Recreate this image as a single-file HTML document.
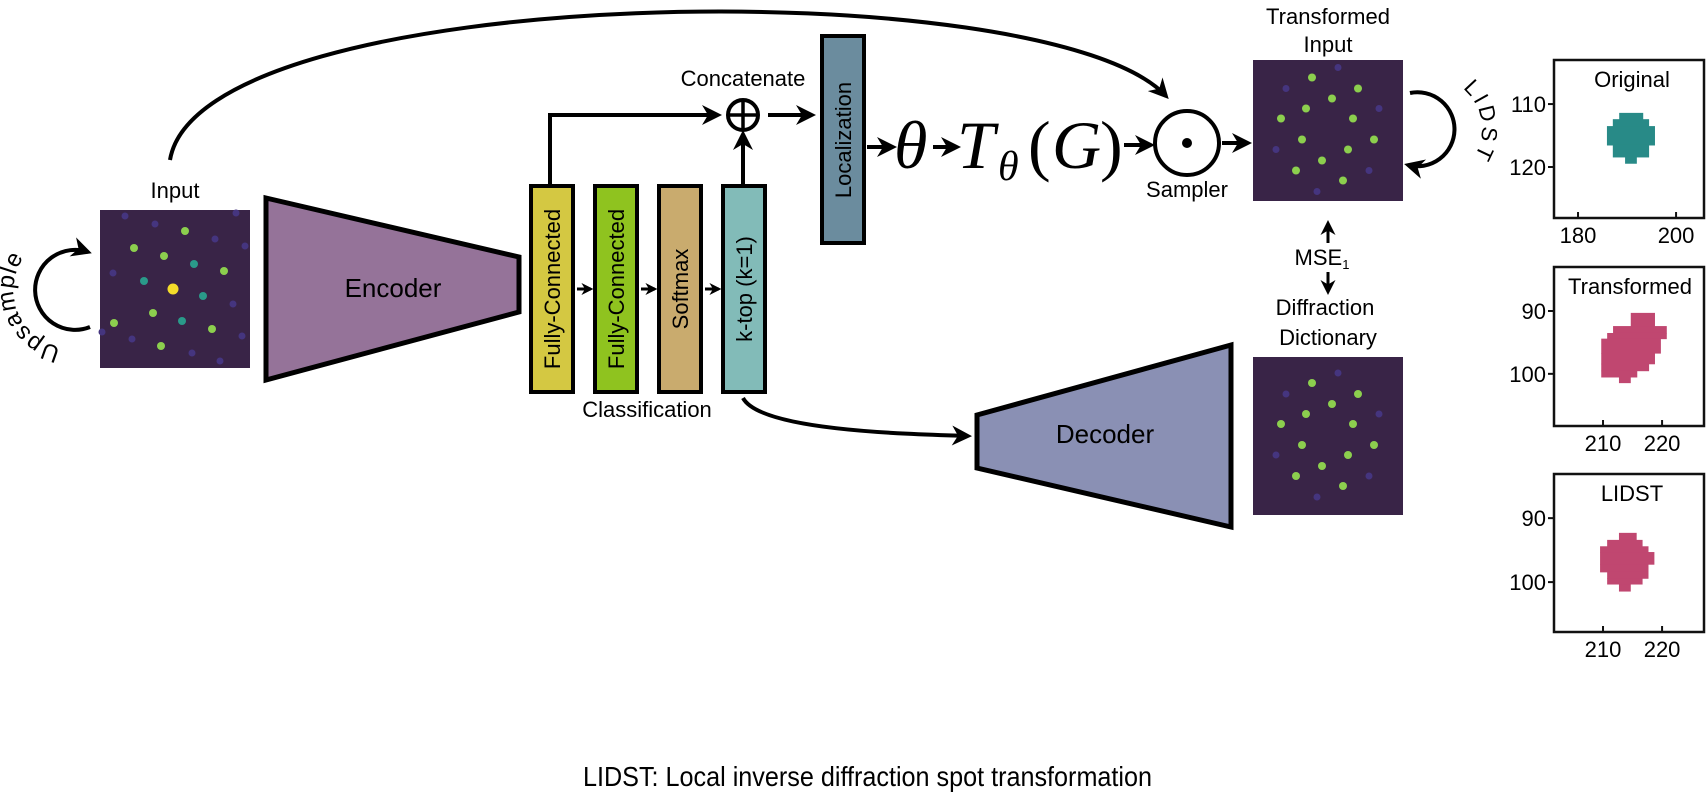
<!DOCTYPE html>
<html><head><meta charset="utf-8"><style>
html,body{margin:0;padding:0;background:#fff;}
svg{display:block;font-family:"Liberation Sans",sans-serif;}
</style></head><body>
<svg id="fig" width="1707" height="810" viewBox="0 0 1707 810" xmlns="http://www.w3.org/2000/svg">
<defs>
<marker id="ah" viewBox="0 0 10 10" refX="8" refY="5" markerWidth="5" markerHeight="5" orient="auto-start-reverse"><path d="M0,0 L10,5 L0,10 L3,5 z" fill="#000"/></marker>
<marker id="ahs" viewBox="0 0 10 10" refX="8" refY="5" markerWidth="4" markerHeight="4" orient="auto"><path d="M0,0 L10,5 L0,10 L3,5 z" fill="#000"/></marker>
</defs>

<path d="M170,160 C200,-20 1050,-30 1166,96" fill="none" stroke="#000" stroke-width="4" marker-end="url(#ah)"/>

<text x="175" y="198" font-size="22" text-anchor="middle">Input</text>
<g id="img-input"></g>

<path d="M90,327 A40 40 0 1 1 88,252" fill="none" stroke="#000" stroke-width="4" marker-end="url(#ah)"/>
<path id="upPath" d="M75,348 A58 58 0 1 1 99,239" fill="none"/>
<text font-size="24" letter-spacing="1"><textPath href="#upPath" startOffset="14">Upsample</textPath></text>

<polygon points="266,198 519,257 519,312 266,380" fill="#957399" stroke="#000" stroke-width="5"/>
<text x="393" y="297" font-size="26" text-anchor="middle">Encoder</text>

<rect x="531" y="186" width="42" height="206" fill="#d4c842" stroke="#000" stroke-width="4"/>
<rect x="595" y="186" width="42" height="206" fill="#8fc31f" stroke="#000" stroke-width="4"/>
<rect x="659" y="186" width="42" height="206" fill="#c9ab6e" stroke="#000" stroke-width="4"/>
<rect x="723" y="186" width="42" height="206" fill="#82bbb8" stroke="#000" stroke-width="4"/>
<text font-size="22" text-anchor="middle" transform="translate(560,289) rotate(-90)">Fully-Connected</text>
<text font-size="22" text-anchor="middle" transform="translate(624,289) rotate(-90)">Fully-Connected</text>
<text font-size="22" text-anchor="middle" transform="translate(688,289) rotate(-90)">Softmax</text>
<text font-size="22" text-anchor="middle" transform="translate(752,289) rotate(-90)">k-top (k=1)</text>
<line x1="577" y1="289" x2="591" y2="289" stroke="#000" stroke-width="3" marker-end="url(#ahs)"/>
<line x1="641" y1="289" x2="655" y2="289" stroke="#000" stroke-width="3" marker-end="url(#ahs)"/>
<line x1="705" y1="289" x2="719" y2="289" stroke="#000" stroke-width="3" marker-end="url(#ahs)"/>
<text x="647" y="417" font-size="22" text-anchor="middle">Classification</text>

<path d="M550,184 L550,115 L718,115" fill="none" stroke="#000" stroke-width="4" marker-end="url(#ah)"/>
<line x1="743" y1="184" x2="743" y2="134" stroke="#000" stroke-width="4" marker-end="url(#ah)"/>
<circle cx="743" cy="115" r="15" fill="none" stroke="#000" stroke-width="4"/>
<line x1="728" y1="115" x2="758" y2="115" stroke="#000" stroke-width="3.5"/>
<line x1="743" y1="100" x2="743" y2="130" stroke="#000" stroke-width="3.5"/>
<text x="743" y="86" font-size="22" text-anchor="middle">Concatenate</text>
<line x1="768" y1="115" x2="812" y2="115" stroke="#000" stroke-width="4" marker-end="url(#ah)"/>

<rect x="822" y="36" width="42" height="207" fill="#6b8c9e" stroke="#000" stroke-width="4"/>
<text font-size="22" text-anchor="middle" transform="translate(851,140) rotate(-90)">Localization</text>
<line x1="867" y1="147" x2="893" y2="147" stroke="#000" stroke-width="4" marker-end="url(#ah)"/>
<text x="894" y="168" font-size="68" font-family="Liberation Serif, serif" font-style="italic">θ</text>
<line x1="933" y1="147" x2="957" y2="147" stroke="#000" stroke-width="4" marker-end="url(#ah)"/>
<text font-family="Liberation Serif, serif" font-style="italic"><tspan x="957" y="168" font-size="68">T</tspan><tspan x="998" y="180" font-size="42">θ</tspan><tspan x="1028" y="168" font-size="68" font-style="normal">(</tspan><tspan x="1052" y="168" font-size="68">G</tspan><tspan x="1100" y="168" font-size="68" font-style="normal">)</tspan></text>
<line x1="1124" y1="145" x2="1151" y2="145" stroke="#000" stroke-width="4" marker-end="url(#ah)"/>
<circle cx="1187" cy="143" r="32" fill="none" stroke="#000" stroke-width="4"/>
<circle cx="1187" cy="143" r="5" fill="#000"/>
<text x="1187" y="197" font-size="22" text-anchor="middle">Sampler</text>
<line x1="1222" y1="143" x2="1248" y2="143" stroke="#000" stroke-width="4" marker-end="url(#ah)"/>

<text font-size="22" text-anchor="middle"><tspan x="1328" y="24">Transformed</tspan><tspan x="1328" y="52">Input</tspan></text>
<g id="img-trans"></g>

<path d="M1410,93 A37 37 0 1 1 1408,165" fill="none" stroke="#000" stroke-width="4" marker-end="url(#ah)"/>
<path id="lidstPath" d="M1456,84 A52 52 0 0 1 1456,174" fill="none"/>
<text font-size="22" letter-spacing="3"><textPath href="#lidstPath" startOffset="8">LIDST</textPath></text>

<line x1="1328" y1="243" x2="1328" y2="223" stroke="#000" stroke-width="3" marker-end="url(#ah)"/>
<text x="1322" y="265" font-size="22" text-anchor="middle">MSE<tspan font-size="13" dy="4">1</tspan></text>
<line x1="1328" y1="272" x2="1328" y2="292" stroke="#000" stroke-width="3" marker-end="url(#ah)"/>
<text font-size="22" text-anchor="middle"><tspan x="1325" y="315">Diffraction</tspan><tspan x="1328" y="345">Dictionary</tspan></text>
<g id="img-dict"></g>

<path d="M743,398 C760,430 900,434 968,436" fill="none" stroke="#000" stroke-width="4" marker-end="url(#ah)"/>
<polygon points="977,415 1231,345 1231,527 977,468" fill="#8a90b4" stroke="#000" stroke-width="5"/>
<text x="1105" y="443" font-size="26" text-anchor="middle">Decoder</text>

<g id="plots"></g>

<text x="583" y="786" font-size="28" textLength="569" lengthAdjust="spacingAndGlyphs">LIDST: Local inverse diffraction spot transformation</text>
</svg>
<script>
// spot patterns (relative to image centre): [dx, dy, kind]
const inputSpots = [[-2,0,'y'],[10,-58,'g'],[-41,-41,'g'],[-11,-33,'g'],[49,-18,'g'],[-61,34,'g'],[-22,24,'g'],[37,40,'g'],[-14,57,'g'],[19,-25,'t'],[-31,-8,'t'],[28,7,'t'],[7,32,'t'],[-50,-73,'p'],[-20,-65,'p'],[61,-76,'p'],[40,-50,'p'],[70,-43,'p'],[-62,-16,'p'],[58,15,'p'],[-73,43,'p'],[-43,50,'p'],[67,47,'p'],[17,64,'p'],[45,72,'p']];
const dictSpots = [[-16,-53,'g'],[30,-42,'g'],[4,-32,'g'],[-22,-22,'g'],[-47,-12,'g'],[25,-12,'g'],[-26,9,'g'],[46,9,'g'],[20,19,'g'],[-6,30,'g'],[-32,40,'g'],[15,50,'g'],[10,-63,'p'],[-42,-42,'p'],[51,-22,'p'],[-52,19,'p'],[41,40,'p'],[-11,61,'p']];
const transSpots = [[-16,-53,'g'],[30,-42,'g'],[4,-32,'g'],[-22,-22,'g'],[-47,-12,'g'],[25,-12,'g'],[-26,9,'g'],[46,9,'g'],[20,19,'g'],[-6,30,'g'],[-32,40,'g'],[15,50,'g'],[10,-63,'p'],[-42,-42,'p'],[51,-22,'p'],[-52,19,'p'],[41,40,'p'],[-11,61,'p']];
// blob rows [yTop, yBottom, xLeft, xRight] in data units
const originalRows = [[111.4,112.4,188.4,193.3],[112.4,113.5,187.1,194.5],[113.5,116.5,185.9,195.7],[116.5,118.4,187.1,194.5],[118.4,119.4,189.6,192.0]];
const transformedRows = [[90.3,92.4,214.7,218.8],[92.4,93.5,211.7,220.8],[93.5,94.4,210.7,220.8],[94.4,96.7,209.7,219.8],[96.7,98.4,209.7,218.8],[98.4,99.5,209.7,217.8],[99.5,100.5,209.7,215.8],[100.5,101.4,212.7,214.7]];
const lidstRows = [[92.3,93.4,212.7,215.7],[93.4,94.4,210.7,216.7],[94.4,95.3,209.5,217.7],[95.3,97.2,209.5,218.7],[97.2,98.4,209.5,217.7],[98.4,99.4,210.7,217.7],[99.4,100.3,210.7,216.7],[100.3,101.4,212.7,214.7]];
const originalXTicks = [180,200];
const originalYTicks = [110,120];
const zoomXTicks = [210,220];
const zoomYTicks = [90,100];

const NS='http://www.w3.org/2000/svg';
function mk(tag, attrs, parent){const e=document.createElementNS(NS,tag);for(const k in attrs)e.setAttribute(k,attrs[k]);parent.appendChild(e);return e;}
const kindCol={y:'#f4dc2a',g:'#8ccf4e',t:'#2a9a8a',p:'#45357f'};
const kindR={y:5.5,g:4,t:4,p:3.5};
function drawImage(id,x,y,w,h,spots){
  const g=document.getElementById(id);
  const bg=mk('rect',{x:x,y:y,width:w,height:h,fill:'#392447'},g);
  
  
  const cx=x+w/2, cy=y+h/2;
  spots.forEach(s=>{
    const c=mk('circle',{cx:cx+s[0],cy:cy+s[1],r:kindR[s[2]],fill:kindCol[s[2]]},g);
    
    
  });
}
drawImage('img-input',100,210,150,158,inputSpots);
drawImage('img-dict',1253,357,150,158,dictSpots);
drawImage('img-trans',1253,60,150,141,transSpots);

function drawPlot(name,box,xd,yd,rows,color,xt,yt,title,titleX,titleAnchor){
  const root=document.getElementById('plots');
  const g=mk('g',{},root);
  
  
  const xs=v=>box.x+(v-xd[0])/(xd[1]-xd[0])*box.w;
  const ys=v=>box.y+(v-yd[0])/(yd[1]-yd[0])*box.h;
  rows.forEach(r=>{
    const re=mk('rect',{x:xs(r[2]),y:ys(r[0]),width:xs(r[3])-xs(r[2]),height:ys(r[1])-ys(r[0])+0.5,fill:color},g);
    
    
  });
  const fr=mk('rect',{x:box.x,y:box.y,width:box.w,height:box.h,fill:'none',stroke:'#111',"stroke-width":2.5},g);
  
  
  xt.forEach(v=>{
    const X=xs(v);
    mk('line',{x1:X,y1:box.y+box.h,x2:X,y2:box.y+box.h-6,stroke:'#111',"stroke-width":2},g);
    const t=mk('text',{x:X,y:box.y+box.h+25,"font-size":22,"text-anchor":"middle"},g);
    
    
    t.textContent=v;
  });
  yt.forEach(v=>{
    const Y=ys(v);
    mk('line',{x1:box.x,y1:Y,x2:box.x-6,y2:Y,stroke:'#111',"stroke-width":2},g);
    const t=mk('text',{x:box.x-8,y:Y+8,"font-size":22,"text-anchor":"end"},g);
    
    
    t.textContent=v;
  });
  const tt=mk('text',{x:titleX,y:box.y+27,"font-size":22,"text-anchor":titleAnchor},g);
  
  
  tt.textContent=title;
}
drawPlot('original-plot',{x:1554,y:60,w:150,h:158},[175.1,205.7],[103.0,128.1],originalRows,'#288a87',originalXTicks,originalYTicks,'Original',1632,'middle');
drawPlot('transformed-plot',{x:1554,y:267,w:150,h:159},[201.7,227.1],[83.0,108.3],transformedRows,'#c04770',zoomXTicks,zoomYTicks,'Transformed',1630,'middle');
drawPlot('lidst-plot',{x:1554,y:474,w:150,h:158},[201.7,227.1],[83.1,107.8],lidstRows,'#c04770',zoomXTicks,zoomYTicks,'LIDST',1632,'middle');
</script>
</body></html>
